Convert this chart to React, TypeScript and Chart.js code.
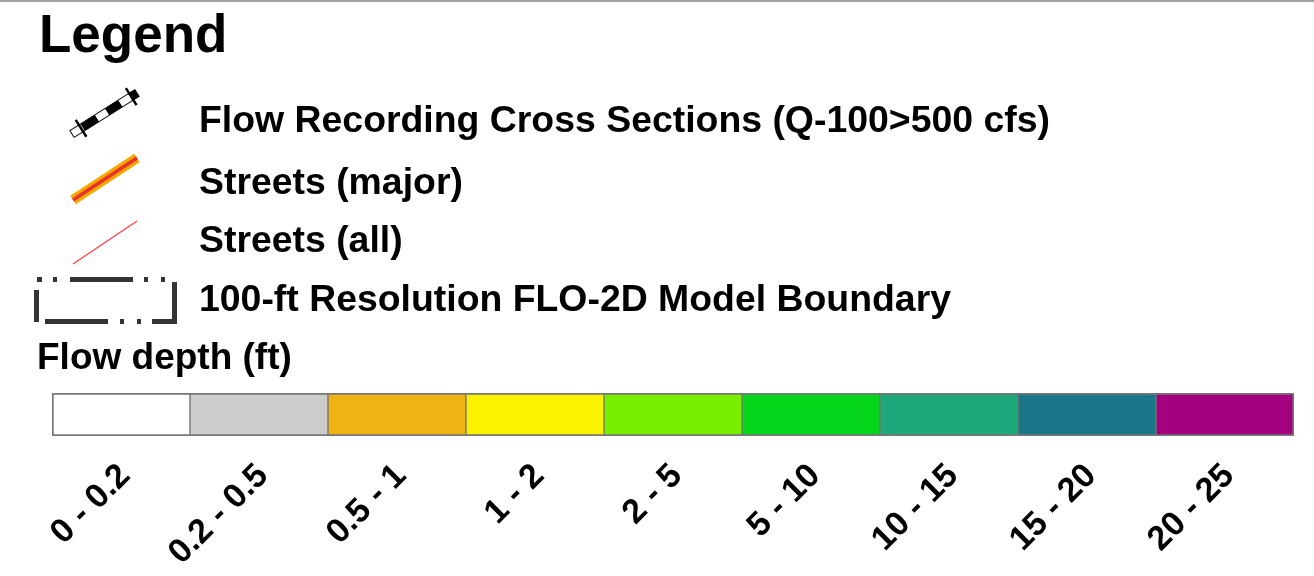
import React, { useEffect, useRef } from "react";
import { Chart, registerables } from "chart.js";

Chart.register(...registerables);

// ---- data ----
const depthBins: string[] = ["0 - 0.2", "0.2 - 0.5", "0.5 - 1", "1 - 2", "2 - 5", "5 - 10", "10 - 15", "15 - 20", "20 - 25"];
const binValues: number[] = [1, 1, 1, 1, 1, 1, 1, 1, 1];
const binColors: string[] = ["#ffffff", "#cccccc", "#eeb413", "#fbf200", "#78ee00", "#05d51b", "#1ea97c", "#1b768a", "#a5007f"];
const legendTitle = "Legend";
const legendItems: string[] = [
  "Flow Recording Cross Sections (Q-100>500 cfs)",
  "Streets (major)",
  "Streets (all)",
  "100-ft Resolution FLO-2D Model Boundary",
];
const rampTitle = "Flow depth (ft)";

const FONT = '"Liberation Sans", Arial, Helvetica, sans-serif';

const legendPlugin = {
  id: "legendDecor",
  afterDraw(chart: any) {
    const ctx = chart.ctx as CanvasRenderingContext2D;
    ctx.save();
    // top border line
    ctx.fillStyle = "#a0a0a0";
    ctx.fillRect(0, 0, chart.width, 2);

    ctx.fillStyle = "#000";
    ctx.textBaseline = "alphabetic";
    ctx.textAlign = "left";
    ctx.font = `bold 53px ${FONT}`;
    ctx.fillText(legendTitle, 39, 52);

    const baselines = [132, 194, 252, 311];
    ctx.font = `bold 37.4px ${FONT}`;
    legendItems.forEach((t, i) => ctx.fillText(t, 199, baselines[i]));

    ctx.font = `bold 37px ${FONT}`;
    ctx.fillText(rampTitle, 37, 369);

    // symbol 1: flow recording cross section
    {
      const ax = 72, ay = 134, bx = 137, by = 93;
      const len = Math.hypot(bx - ax, by - ay);
      const ang = Math.atan2(by - ay, bx - ax);
      ctx.save();
      ctx.translate(ax, ay);
      ctx.rotate(ang);
      const h = 8;
      const segs: [number, number, string][] = [
        [0, 12.6, "#fff"],
        [12.6, 29.6, "#000"],
        [29.6, 41.5, "#fff"],
        [41.5, 57.3, "#000"],
        [57.3, 69, "#fff"],
        [69, len, "#000"],
      ];
      segs.forEach(([s, e, c]) => {
        ctx.fillStyle = c;
        ctx.fillRect(s, -h / 2, e - s, h);
      });
      ctx.strokeStyle = "#000";
      ctx.lineWidth = 1;
      ctx.strokeRect(0, -h / 2, len, h);
      ctx.lineWidth = 2.5;
      ctx.beginPath();
      ctx.moveTo(10.7, -10);
      ctx.lineTo(10.7, 10);
      ctx.moveTo(70, -10);
      ctx.lineTo(70, 10);
      ctx.stroke();
      ctx.restore();
    }

    // symbol 2: major streets
    ctx.lineCap = "butt";
    ctx.strokeStyle = "#f6a800";
    ctx.lineWidth = 10;
    ctx.beginPath();
    ctx.moveTo(73, 200);
    ctx.lineTo(137, 158);
    ctx.stroke();
    ctx.strokeStyle = "#e8332a";
    ctx.lineWidth = 3.5;
    ctx.beginPath();
    ctx.moveTo(73, 200);
    ctx.lineTo(137, 158);
    ctx.stroke();

    // symbol 3: all streets
    ctx.strokeStyle = "#ff3b3b";
    ctx.lineWidth = 1.2;
    ctx.beginPath();
    ctx.moveTo(73, 264);
    ctx.lineTo(137, 221);
    ctx.stroke();

    // symbol 4: model boundary (dash-dot rectangle)
    ctx.fillStyle = "#333";
    const top: [number, number][] = [[37, 42], [53, 57], [70, 133], [144, 148], [161, 165]];
    top.forEach(([s, e]) => ctx.fillRect(s, 277, e - s, 5));
    const bot: [number, number][] = [[45, 108], [120, 124], [137, 141], [152, 176]];
    bot.forEach(([s, e]) => ctx.fillRect(s, 319, e - s, 5));
    ctx.fillRect(172, 282, 5, 42);
    ctx.fillRect(34, 290, 5, 32);

    ctx.restore();
  },
};

export default function App() {
  const ref = useRef<HTMLCanvasElement | null>(null);
  useEffect(() => {
    if (!ref.current) return;
    const last = binValues.length - 1;
    const chart = new Chart(ref.current, {
      type: "bar",
      data: {
        labels: depthBins,
        datasets: [
          {
            data: binValues,
            backgroundColor: binColors,
            borderColor: "#777777",
            borderWidth: (c: any) => ({
              top: 2,
              bottom: 2,
              left: c.dataIndex === 0 ? 2 : 1,
              right: c.dataIndex === last ? 2 : 1,
            }),
            borderSkipped: false,
            barPercentage: 1,
            categoryPercentage: 1,
          },
        ],
      },
      options: {
        responsive: false,
        animation: false,
        events: [],
        layout: { padding: { top: 393, left: 52, right: 20, bottom: 0 } },
        plugins: { legend: { display: false }, tooltip: { enabled: false }, title: { display: false } },
        scales: {
          y: { display: false, min: 0, max: 1 },
          x: {
            grid: { display: false, drawTicks: false },
            border: { display: false },
            ticks: {
              color: "#000",
              font: { family: FONT, size: 34, weight: "bold" },
              minRotation: 45,
              maxRotation: 45,
              autoSkip: false,
              padding: 20,
              labelOffset: 4,
            },
            afterFit: (scale: any) => {
              scale.height = 140;
            },
          },
        },
      },
      plugins: [legendPlugin],
    });
    return () => chart.destroy();
  }, []);
  return (
    <div style={{ position: "absolute", left: 0, top: 0, width: 1314, height: 576, background: "#fff" }}>
      <canvas ref={ref} width={1314} height={576} style={{ display: "block" }} />
    </div>
  );
}
